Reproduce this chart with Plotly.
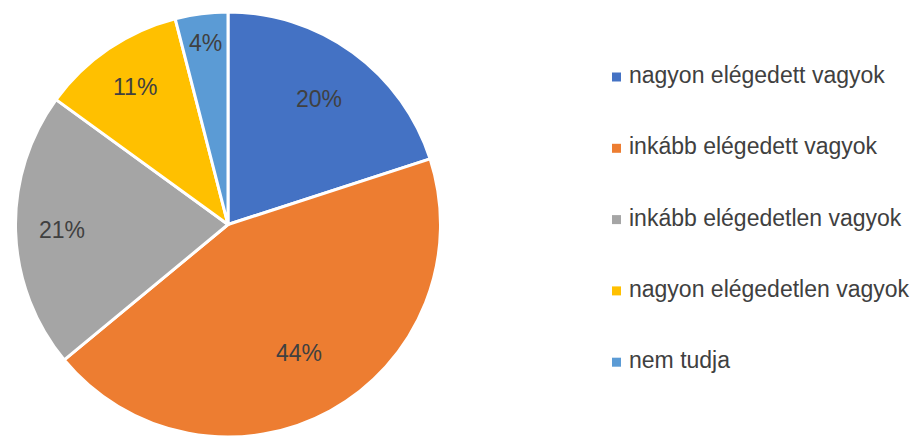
import numpy as np
import plotly.graph_objects as go

# Data
labels = ['nagyon elégedett vagyok', 'inkább elégedett vagyok',
          'inkább elégedetlen vagyok', 'nagyon elégedetlen vagyok', 'nem tudja']
values = [20, 44, 21, 11, 4]
colors = ['#4472C4', '#ED7D31', '#A5A5A5', '#FFC000', '#5B9BD5']

FONT = 'Liberation Sans Narrow, Arial Narrow, Liberation Sans, Arial, sans-serif'
TXT = '#404040'

# pie geometry (pixels)
cx, cy, R = 228, 224.5, 212.5

fig = go.Figure()
fig.add_trace(go.Pie(labels=labels, values=values,
                     sort=False, direction='clockwise', rotation=0,
                     marker=dict(colors=colors, line=dict(color='white', width=3)),
                     textinfo='none',
                     domain=dict(x=[(cx - R) / 915, (cx + R) / 915],
                                 y=[max(0, (437 - cy - R) / 437), (437 - cy + R) / 437]),
                     showlegend=False, hoverinfo='label+percent'))

annotations = []
shapes = []

# percent labels, placed Excel-style along the bisector of each slice
label_r = [0.73, 0.69, 0.78, 0.78, 0.86]
total = sum(values)
cum = np.cumsum([0] + values)
for i, v in enumerate(values):
    mid = (cum[i] + v / 2) / total * 2 * np.pi
    annotations.append(dict(x=cx + label_r[i] * R * np.sin(mid),
                            y=cy - label_r[i] * R * np.cos(mid),
                            xref='x', yref='y', showarrow=False,
                            text='%d%%' % round(v / total * 100),
                            font=dict(family=FONT, size=23, color=TXT)))

# Legend built by hand so the item spacing matches
y0 = 75
step = 71.3
for i, (lab, col) in enumerate(zip(labels, colors)):
    yy = y0 + i * step
    annotations.append(dict(x=627, y=yy, xref='x', yref='y', text=lab,
                            showarrow=False, xanchor='left', yanchor='middle',
                            font=dict(family=FONT, size=23, color=TXT)))
    shapes.append(dict(type='rect', xref='x', yref='y',
                       x0=612, x1=621, y0=yy - 2.5, y1=yy + 6.5,
                       fillcolor=col, line=dict(width=0)))

fig.update_layout(width=915, height=437,
                  margin=dict(l=0, r=0, t=0, b=0),
                  paper_bgcolor='white', plot_bgcolor='rgba(0,0,0,0)',
                  xaxis=dict(range=[0, 915], visible=False, fixedrange=True),
                  yaxis=dict(range=[437, 0], visible=False, fixedrange=True),
                  annotations=annotations, shapes=shapes)

fig.write_html("out.html", config={'displayModeBar': False},
               post_script="document.body.style.margin='0';")
